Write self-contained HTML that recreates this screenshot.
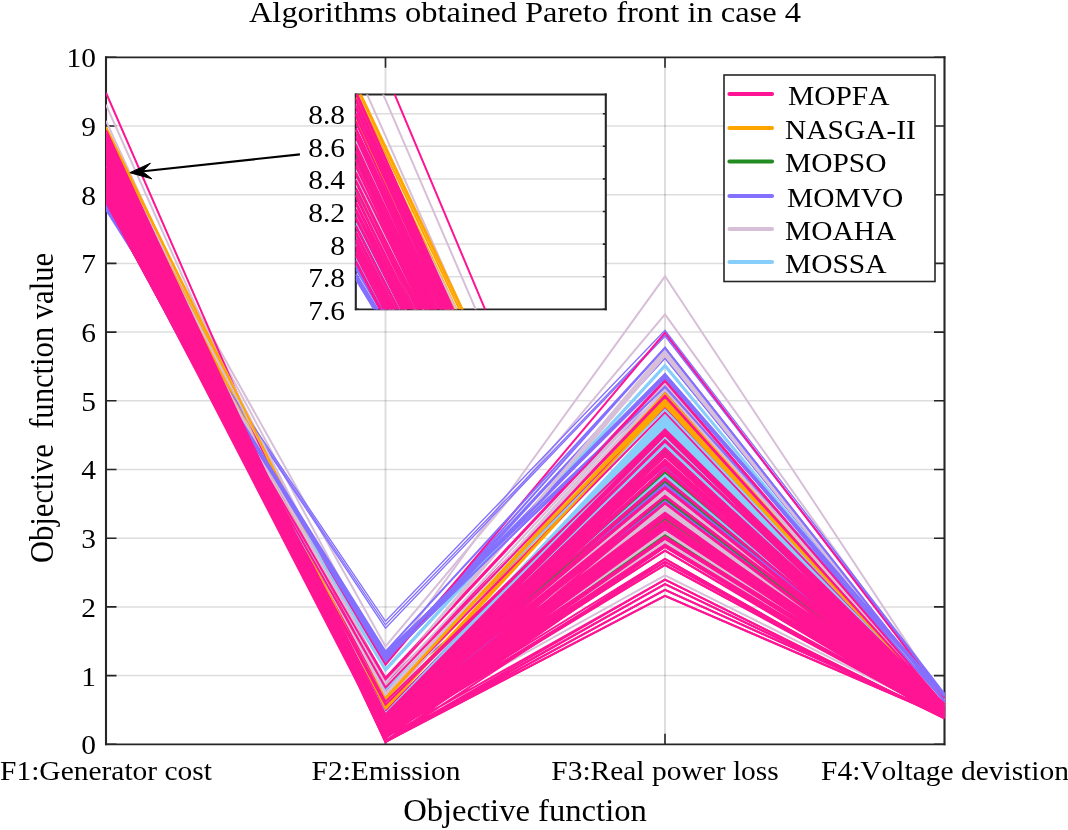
<!DOCTYPE html>
<html><head><meta charset="utf-8"><title>Pareto front</title>
<style>
html,body{margin:0;padding:0;background:#fff;}
body{width:1068px;height:830px;position:relative;overflow:hidden;font-family:"Liberation Serif",serif;color:#000;}
.t{position:absolute;white-space:pre;line-height:normal;margin:0;padding:0;filter:grayscale(1);font-kerning:none;font-variant-ligatures:none;}
</style></head><body>
<svg width="1068" height="830" viewBox="0 0 1068 830" style="position:absolute;left:0;top:0">
<defs><clipPath id="cm"><rect x="106.0" y="57.3" width="839.8" height="687.0"/></clipPath><clipPath id="ci"><rect x="355.8" y="94.5" width="250.0" height="214.8"/></clipPath></defs>
<path d="M106.0 675.6 H944.5 M106.0 606.9 H944.5 M106.0 538.2 H944.5 M106.0 469.5 H944.5 M106.0 400.8 H944.5 M106.0 332.1 H944.5 M106.0 263.4 H944.5 M106.0 194.7 H944.5 M106.0 126.0 H944.5" stroke="rgba(30,30,30,0.15)" stroke-width="1.5" fill="none"/>
<path d="M385.5 57.3 V744.3 M665.0 57.3 V744.3" stroke="rgba(30,30,30,0.15)" stroke-width="1.9" fill="none"/>
<path d="M106.0 744.3 h10.5 M944.5 744.3 h-10.5 M106.0 675.6 h10.5 M944.5 675.6 h-10.5 M106.0 606.9 h10.5 M944.5 606.9 h-10.5 M106.0 538.2 h10.5 M944.5 538.2 h-10.5 M106.0 469.5 h10.5 M944.5 469.5 h-10.5 M106.0 400.8 h10.5 M944.5 400.8 h-10.5 M106.0 332.1 h10.5 M944.5 332.1 h-10.5 M106.0 263.4 h10.5 M944.5 263.4 h-10.5 M106.0 194.7 h10.5 M944.5 194.7 h-10.5 M106.0 126.0 h10.5 M944.5 126.0 h-10.5 M106.0 57.3 h10.5 M944.5 57.3 h-10.5 M385.5 744.3 v-10.5 M385.5 57.3 v10.5 M665.0 744.3 v-10.5 M665.0 57.3 v10.5" stroke="#262626" stroke-width="1.6" fill="none"/>
<path d="M106.0 57.3 H944.5 M106.0 744.3 H944.5" stroke="#262626" stroke-width="1.8" stroke-linecap="square" fill="none"/>
<path d="M106.0 57.3 V744.3 M944.5 57.3 V744.3" stroke="#262626" stroke-width="2.1" stroke-linecap="square" fill="none"/>
<g fill="none" stroke-width="2.00" stroke-linejoin="miter" clip-path="url(#cm)"><path d="M106.0 195.1 L385.5 715.3 L665.0 444.3 L944.5 704.7" stroke="#87CEFA"/><path d="M106.0 207.5 L385.5 657.4 L665.0 376.1 L944.5 696.9" stroke="#8470FF"/><path d="M106.0 194.0 L385.5 713.6 L665.0 423.1 L944.5 704.7" stroke="#87CEFA"/><path d="M106.0 181.0 L385.5 709.9 L665.0 436.5 L944.5 709.9 M106.0 152.1 L385.5 681.7 L665.0 352.2 L944.5 703.8" stroke="#D8BFD8"/><path d="M106.0 186.7 L385.5 713.2 L665.0 418.9 L944.5 703.9 M106.0 194.2 L385.5 715.7 L665.0 443.2 L944.5 704.6" stroke="#87CEFA"/><path d="M106.0 146.6 L385.5 646.4 L665.0 314.4 L944.5 701.7" stroke="#D8BFD8"/><path d="M106.0 186.6 L385.5 721.4 L665.0 474.1 L944.5 707.8" stroke="#87CEFA"/><path d="M106.0 134.9 L385.5 700.3 L665.0 401.3 L944.5 706.9" stroke="#FFA500"/><path d="M106.0 181.0 L385.5 722.9 L665.0 475.3 L944.5 707.9 M106.0 183.8 L385.5 721.2 L665.0 476.5 L944.5 708.0" stroke="#87CEFA"/><path d="M106.0 159.2 L385.5 729.2 L665.0 519.0 L944.5 711.2" stroke="#228B22"/><path d="M106.0 205.2 L385.5 658.3 L665.0 357.9 L944.5 700.3" stroke="#8470FF"/><path d="M106.0 201.6 L385.5 670.8 L665.0 366.6 L944.5 703.1" stroke="#87CEFA"/><path d="M106.0 140.2 L385.5 721.5 L665.0 458.0 L944.5 707.4" stroke="#D8BFD8"/><path d="M106.0 157.5 L385.5 719.9 L665.0 452.0 L944.5 706.7" stroke="#228B22"/><path d="M106.0 130.1 L385.5 699.0 L665.0 399.1 L944.5 706.0" stroke="#FFA500"/><path d="M106.0 135.5 L385.5 730.5 L665.0 541.6 L944.5 713.1" stroke="#D8BFD8"/><path d="M106.0 201.6 L385.5 689.0 L665.0 466.8 L944.5 703.1" stroke="#8470FF"/><path d="M106.0 137.0 L385.5 706.2 L665.0 402.4 L944.5 705.9" stroke="#FFA500"/><path d="M106.0 143.2 L385.5 663.6 L665.0 276.3 L944.5 699.6 M106.0 141.6 L385.5 726.4 L665.0 506.8 L944.5 710.3" stroke="#D8BFD8"/><path d="M106.0 183.2 L385.5 713.0 L665.0 416.1 L944.5 703.9" stroke="#87CEFA"/><path d="M106.0 209.1 L385.5 624.8 L665.0 334.8 L944.5 694.5" stroke="#8470FF" stroke-width="1.35"/><path d="M106.0 185.7 L385.5 713.1 L665.0 417.5 L944.5 705.5" stroke="#87CEFA"/><path d="M106.0 180.0 L385.5 722.2 L665.0 472.2 L944.5 706.9" stroke="#228B22"/><path d="M106.0 139.7 L385.5 681.2 L665.0 354.6 L944.5 701.8 M106.0 104.7 L385.5 731.9 L665.0 514.2 L944.5 709.9" stroke="#D8BFD8"/><path d="M106.0 153.7 L385.5 732.8 L665.0 534.8 L944.5 712.8" stroke="#228B22"/><path d="M106.0 140.5 L385.5 725.9 L665.0 493.9 L944.5 710.3 M106.0 120.8 L385.5 730.6 L665.0 575.3 L944.5 714.8 M106.0 133.3 L385.5 729.4 L665.0 508.1 L944.5 710.6" stroke="#D8BFD8"/><path d="M106.0 171.8 L385.5 724.0 L665.0 499.9 L944.5 710.5" stroke="#228B22"/><path d="M106.0 207.8 L385.5 628.2 L665.0 336.2 L944.5 695.5" stroke="#8470FF" stroke-width="1.35"/><path d="M106.0 159.4 L385.5 731.1 L665.0 542.7 L944.5 714.0" stroke="#D8BFD8"/><path d="M106.0 203.4 L385.5 660.3 L665.0 347.7 L944.5 701.7" stroke="#8470FF"/><path d="M106.0 138.4 L385.5 723.9 L665.0 490.1 L944.5 710.3" stroke="#D8BFD8"/><path d="M106.0 203.5 L385.5 662.2 L665.0 357.5 L944.5 703.1 M106.0 204.1 L385.5 661.2 L665.0 374.4 L944.5 702.4" stroke="#8470FF"/><path d="M106.0 198.2 L385.5 714.9 L665.0 438.3 L944.5 704.2" stroke="#87CEFA"/><path d="M106.0 209.5 L385.5 653.5 L665.0 391.9 L944.5 694.1" stroke="#8470FF"/><path d="M106.0 139.7 L385.5 706.5 L665.0 403.5 L944.5 706.7" stroke="#FFA500"/><path d="M106.0 199.5 L385.5 719.8 L665.0 456.1 L944.5 707.0 M106.0 142.7 L385.5 740.9 L665.0 579.6 L944.5 718.5 M106.0 171.7 L385.5 714.4 L665.0 454.9 L944.5 709.9 M106.0 193.1 L385.5 717.5 L665.0 449.4 L944.5 704.1" stroke="#FF1493"/><path d="M106.0 193.1 L385.5 716.0 L665.0 446.5 L944.5 704.9" stroke="#87CEFA"/><path d="M106.0 174.4 L385.5 714.4 L665.0 433.5 L944.5 705.1" stroke="#FF1493"/><path d="M106.0 171.8 L385.5 730.8 L665.0 532.9 L944.5 712.3" stroke="#D8BFD8"/><path d="M106.0 155.9 L385.5 730.8 L665.0 538.6 L944.5 713.7 M106.0 180.3 L385.5 717.6 L665.0 479.4 L944.5 708.4 M106.0 149.3 L385.5 718.0 L665.0 470.1 L944.5 710.9 M106.0 158.7 L385.5 728.7 L665.0 496.7 L944.5 710.5 M106.0 146.3 L385.5 721.6 L665.0 495.9 L944.5 707.7 M106.0 164.6 L385.5 724.1 L665.0 453.7 L944.5 704.9 M106.0 199.8 L385.5 715.6 L665.0 448.5 L944.5 709.4 M106.0 152.5 L385.5 730.5 L665.0 512.7 L944.5 710.2 M106.0 133.7 L385.5 733.7 L665.0 545.8 L944.5 713.5 M106.0 146.8 L385.5 740.6 L665.0 584.2 L944.5 717.5" stroke="#FF1493"/><path d="M106.0 197.8 L385.5 727.3 L665.0 527.9 L944.5 708.6" stroke="#8470FF"/><path d="M106.0 169.1 L385.5 725.8 L665.0 491.4 L944.5 709.8" stroke="#D8BFD8"/><path d="M106.0 174.3 L385.5 720.7 L665.0 479.4 L944.5 709.8" stroke="#FF1493"/><path d="M106.0 180.8 L385.5 712.9 L665.0 414.7 L944.5 705.5" stroke="#87CEFA"/><path d="M106.0 132.9 L385.5 700.0 L665.0 400.2 L944.5 706.7" stroke="#FFA500"/><path d="M106.0 151.1 L385.5 731.6 L665.0 540.6 L944.5 713.6" stroke="#D8BFD8"/><path d="M106.0 174.5 L385.5 732.8 L665.0 503.5 L944.5 710.1 M106.0 137.2 L385.5 734.4 L665.0 526.2 L944.5 711.9 M106.0 92.7 L385.5 734.0 L665.0 524.5 L944.5 713.4" stroke="#FF1493"/><path d="M106.0 174.1 L385.5 703.1 L665.0 389.8 L944.5 706.5" stroke="#D8BFD8"/><path d="M106.0 162.4 L385.5 732.6 L665.0 526.2 L944.5 710.5" stroke="#FF1493"/><path d="M106.0 136.3 L385.5 683.3 L665.0 355.8 L944.5 701.8" stroke="#D8BFD8"/><path d="M106.0 190.1 L385.5 732.3 L665.0 550.7 L944.5 717.1 M106.0 140.4 L385.5 724.3 L665.0 503.1 L944.5 711.3 M106.0 140.2 L385.5 724.1 L665.0 470.1 L944.5 707.2" stroke="#FF1493"/><path d="M106.0 169.8 L385.5 727.8 L665.0 509.4 L944.5 710.9" stroke="#D8BFD8"/><path d="M106.0 153.0 L385.5 724.9 L665.0 516.3 L944.5 715.1 M106.0 194.7 L385.5 691.7 L665.0 407.3 L944.5 707.2" stroke="#FF1493"/><path d="M106.0 191.0 L385.5 713.5 L665.0 421.7 L944.5 705.2" stroke="#87CEFA"/><path d="M106.0 202.8 L385.5 710.6 L665.0 429.3 L944.5 707.6" stroke="#FF1493"/><path d="M106.0 171.2 L385.5 726.4 L665.0 482.4 L944.5 709.4" stroke="#228B22"/><path d="M106.0 152.3 L385.5 718.9 L665.0 478.5 L944.5 712.4" stroke="#FF1493"/><path d="M106.0 146.6 L385.5 709.3 L665.0 405.6 L944.5 707.1" stroke="#FFA500"/><path d="M106.0 192.8 L385.5 731.0 L665.0 513.9 L944.5 706.3" stroke="#FF1493"/><path d="M106.0 163.0 L385.5 723.3 L665.0 492.6 L944.5 710.0" stroke="#D8BFD8"/><path d="M106.0 201.3 L385.5 723.0 L665.0 501.1 L944.5 706.5" stroke="#8470FF"/><path d="M106.0 165.5 L385.5 725.4 L665.0 526.2 L944.5 714.3 M106.0 158.5 L385.5 714.4 L665.0 430.7 L944.5 705.3 M106.0 133.6 L385.5 735.6 L665.0 565.0 L944.5 714.9 M106.0 152.9 L385.5 723.7 L665.0 461.2 L944.5 706.7 M106.0 152.5 L385.5 741.9 L665.0 595.8 L944.5 716.8 M106.0 183.7 L385.5 712.0 L665.0 430.7 L944.5 705.4" stroke="#FF1493"/><path d="M106.0 172.0 L385.5 681.6 L665.0 349.8 L944.5 704.1" stroke="#D8BFD8"/><path d="M106.0 181.0 L385.5 714.5 L665.0 441.2 L944.5 704.1 M106.0 164.8 L385.5 732.4 L665.0 565.0 L944.5 716.3 M106.0 164.8 L385.5 732.3 L665.0 512.7 L944.5 710.3 M106.0 155.5 L385.5 734.6 L665.0 503.1 L944.5 712.1" stroke="#FF1493"/><path d="M106.0 151.1 L385.5 719.4 L665.0 458.2 L944.5 707.7" stroke="#D8BFD8"/><path d="M106.0 199.9 L385.5 720.2 L665.0 483.9 L944.5 705.1" stroke="#8470FF"/><path d="M106.0 195.9 L385.5 715.9 L665.0 434.9 L944.5 706.8 M106.0 181.0 L385.5 736.1 L665.0 523.5 L944.5 709.0 M106.0 190.3 L385.5 715.9 L665.0 460.1 L944.5 704.1 M106.0 187.2 L385.5 732.1 L665.0 544.7 L944.5 717.5 M106.0 187.4 L385.5 722.0 L665.0 487.2 L944.5 705.9 M106.0 167.7 L385.5 720.0 L665.0 432.1 L944.5 704.1 M106.0 171.2 L385.5 715.3 L665.0 440.3 L944.5 706.4 M106.0 155.7 L385.5 722.0 L665.0 468.7 L944.5 707.9 M106.0 195.7 L385.5 714.4 L665.0 440.3 L944.5 704.1 M106.0 202.9 L385.5 664.9 L665.0 332.6 L944.5 698.5" stroke="#FF1493"/><path d="M106.0 195.2 L385.5 714.2 L665.0 445.4 L944.5 704.8" stroke="#87CEFA"/><path d="M106.0 199.5 L385.5 723.7 L665.0 488.1 L944.5 710.5" stroke="#FF1493"/><path d="M106.0 136.2 L385.5 731.6 L665.0 531.6 L944.5 714.0" stroke="#D8BFD8"/><path d="M106.0 199.5 L385.5 677.7 L665.0 379.8 L944.5 704.5 M106.0 193.3 L385.5 696.2 L665.0 412.3 L944.5 707.9" stroke="#FF1493"/><path d="M106.0 193.3 L385.5 690.0 L665.0 409.7 L944.5 704.5" stroke="#87CEFA"/><path d="M106.0 208.4 L385.5 621.3 L665.0 330.4 L944.5 693.5" stroke="#8470FF" stroke-width="1.35"/><path d="M106.0 165.1 L385.5 738.1 L665.0 522.2 L944.5 710.5 M106.0 164.6 L385.5 714.7 L665.0 450.3 L944.5 705.9" stroke="#FF1493"/><path d="M106.0 197.8 L385.5 713.8 L665.0 425.9 L944.5 703.8" stroke="#87CEFA"/><path d="M106.0 163.2 L385.5 722.6 L665.0 498.5 L944.5 710.5" stroke="#228B22"/><path d="M106.0 128.1 L385.5 697.6 L665.0 398.0 L944.5 707.2" stroke="#FFA500"/><path d="M106.0 173.5 L385.5 722.0 L665.0 481.2 L944.5 709.1" stroke="#228B22"/><path d="M106.0 146.6 L385.5 683.3 L665.0 353.4 L944.5 705.5" stroke="#D8BFD8"/><path d="M106.0 198.9 L385.5 714.4 L665.0 440.3 L944.5 705.8" stroke="#FF1493"/><path d="M106.0 194.7 L385.5 668.7 L665.0 364.7 L944.5 702.4" stroke="#87CEFA"/><path d="M106.0 187.0 L385.5 717.6 L665.0 434.9 L944.5 706.5 M106.0 136.5 L385.5 741.6 L665.0 589.9 L944.5 716.1" stroke="#FF1493"/><path d="M106.0 195.2 L385.5 713.7 L665.0 424.5 L944.5 705.1" stroke="#87CEFA"/><path d="M106.0 180.2 L385.5 714.4 L665.0 433.5 L944.5 704.1 M106.0 202.4 L385.5 714.4 L665.0 464.7 L944.5 705.6 M106.0 159.0 L385.5 724.6 L665.0 523.5 L944.5 716.6" stroke="#FF1493"/><path d="M106.0 201.1 L385.5 720.4 L665.0 485.3 L944.5 705.2" stroke="#8470FF"/><path d="M106.0 127.0 L385.5 697.2 L665.0 393.2 L944.5 706.6" stroke="#FFA500"/><path d="M106.0 130.9 L385.5 733.5 L665.0 536.8 L944.5 709.0 M106.0 176.9 L385.5 720.6 L665.0 478.5 L944.5 708.8 M106.0 145.8 L385.5 720.8 L665.0 503.1 L944.5 713.9" stroke="#FF1493"/><path d="M106.0 179.0 L385.5 729.7 L665.0 505.5 L944.5 711.1" stroke="#D8BFD8"/><path d="M106.0 189.5 L385.5 713.4 L665.0 420.3 L944.5 705.1" stroke="#87CEFA"/><path d="M106.0 189.5 L385.5 719.8 L665.0 456.1 L944.5 706.6" stroke="#FF1493"/><path d="M106.0 207.2 L385.5 655.4 L665.0 374.0 L944.5 695.5" stroke="#8470FF"/><path d="M106.0 184.1 L385.5 715.7 L665.0 461.2 L944.5 706.7" stroke="#FF1493"/><path d="M106.0 142.5 L385.5 707.9 L665.0 404.6 L944.5 706.6" stroke="#FFA500"/><path d="M106.0 187.4 L385.5 704.7 L665.0 429.3 L944.5 704.1 M106.0 159.1 L385.5 729.2 L665.0 524.9 L944.5 712.5 M106.0 196.8 L385.5 684.5 L665.0 395.6 L944.5 705.8 M106.0 167.9 L385.5 728.3 L665.0 529.1 L944.5 712.5" stroke="#FF1493"/><path d="M106.0 167.2 L385.5 693.3 L665.0 384.4 L944.5 706.5 M106.0 174.1 L385.5 694.8 L665.0 388.4 L944.5 706.5 M106.0 163.8 L385.5 683.0 L665.0 351.0 L944.5 704.0" stroke="#D8BFD8"/><path d="M106.0 201.9 L385.5 716.8 L665.0 441.2 L944.5 706.7 M106.0 159.2 L385.5 718.3 L665.0 464.7 L944.5 708.4 M106.0 202.6 L385.5 715.7 L665.0 450.3 L944.5 704.1 M106.0 152.7 L385.5 735.4 L665.0 561.9 L944.5 713.6" stroke="#FF1493"/><path d="M106.0 203.8 L385.5 659.3 L665.0 386.4 L944.5 701.0" stroke="#8470FF"/><path d="M106.0 200.0 L385.5 713.9 L665.0 427.3 L944.5 705.1" stroke="#87CEFA"/><path d="M106.0 171.5 L385.5 725.3 L665.0 538.6 L944.5 714.9" stroke="#FF1493"/><path d="M106.0 167.2 L385.5 685.9 L665.0 383.1 L944.5 706.5" stroke="#D8BFD8"/><path d="M106.0 139.9 L385.5 732.1 L665.0 558.8 L944.5 717.4" stroke="#FF1493"/><path d="M106.0 204.0 L385.5 651.6 L665.0 347.9 L944.5 702.0" stroke="#8470FF"/><path d="M106.0 161.9 L385.5 728.5 L665.0 510.7 L944.5 710.6" stroke="#D8BFD8"/><path d="M106.0 207.5 L385.5 656.4 L665.0 377.4 L944.5 696.2 M106.0 208.5 L385.5 652.5 L665.0 387.1 L944.5 696.6" stroke="#8470FF"/><path d="M106.0 161.5 L385.5 717.6 L665.0 487.2 L944.5 709.3 M106.0 140.1 L385.5 721.9 L665.0 462.4 L944.5 707.9 M106.0 192.6 L385.5 729.8 L665.0 523.5 L944.5 710.3 M106.0 196.6 L385.5 721.2 L665.0 464.7 L944.5 709.2 M106.0 183.6 L385.5 721.7 L665.0 460.1 L944.5 704.1 M106.0 139.5 L385.5 737.4 L665.0 546.8 L944.5 715.8" stroke="#FF1493"/><path d="M106.0 203.7 L385.5 654.5 L665.0 377.8 L944.5 694.8" stroke="#8470FF"/><path d="M106.0 130.2 L385.5 741.6 L665.0 595.8 L944.5 716.5 M106.0 146.0 L385.5 724.9 L665.0 456.1 L944.5 708.6 M106.0 177.5 L385.5 719.9 L665.0 463.6 L944.5 709.2 M106.0 136.4 L385.5 734.0 L665.0 515.1 L944.5 710.7 M106.0 174.3 L385.5 714.4 L665.0 432.1 L944.5 705.5 M106.0 156.1 L385.5 733.7 L665.0 513.9 L944.5 713.3 M106.0 155.1 L385.5 720.3 L665.0 454.9 L944.5 704.5 M106.0 190.2 L385.5 730.2 L665.0 522.2 L944.5 711.2 M106.0 177.7 L385.5 731.1 L665.0 522.2 L944.5 712.6 M106.0 139.6 L385.5 736.0 L665.0 544.7 L944.5 714.4 M106.0 180.7 L385.5 714.4 L665.0 441.2 L944.5 704.1 M106.0 201.9 L385.5 717.4 L665.0 434.9 L944.5 707.3 M106.0 183.7 L385.5 717.7 L665.0 463.6 L944.5 711.4 M106.0 143.3 L385.5 729.4 L665.0 479.4 L944.5 709.1 M106.0 149.7 L385.5 741.9 L665.0 589.9 L944.5 716.0 M106.0 140.5 L385.5 730.9 L665.0 478.5 L944.5 710.4 M106.0 159.0 L385.5 730.2 L665.0 495.9 L944.5 711.1 M106.0 174.6 L385.5 723.3 L665.0 454.9 L944.5 712.0 M106.0 192.6 L385.5 715.5 L665.0 462.4 L944.5 707.6 M106.0 142.9 L385.5 742.2 L665.0 584.2 L944.5 717.9 M106.0 148.9 L385.5 728.5 L665.0 524.9 L944.5 716.8 M106.0 193.6 L385.5 722.1 L665.0 453.7 L944.5 705.3 M106.0 167.9 L385.5 714.4 L665.0 453.7 L944.5 705.4 M106.0 146.7 L385.5 740.7 L665.0 546.8 L944.5 716.8 M106.0 133.5 L385.5 732.3 L665.0 550.7 L944.5 714.6 M106.0 177.3 L385.5 719.1 L665.0 463.6 L944.5 706.5 M106.0 190.4 L385.5 726.3 L665.0 517.5 L944.5 714.4 M106.0 198.7 L385.5 732.3 L665.0 545.8 L944.5 712.4 M106.0 180.0 L385.5 718.7 L665.0 448.5 L944.5 707.3 M106.0 193.3 L385.5 714.4 L665.0 450.3 L944.5 706.1 M106.0 149.6 L385.5 727.5 L665.0 520.9 L944.5 715.8 M106.0 183.8 L385.5 701.7 L665.0 429.3 L944.5 704.1 M106.0 192.7 L385.5 716.7 L665.0 449.4 L944.5 704.3 M106.0 168.3 L385.5 726.1 L665.0 515.1 L944.5 711.2 M106.0 148.9 L385.5 734.8 L665.0 537.7 L944.5 715.7 M106.0 180.4 L385.5 721.0 L665.0 495.9 L944.5 706.9 M106.0 155.4 L385.5 730.0 L665.0 537.7 L944.5 713.8 M106.0 164.5 L385.5 719.9 L665.0 461.2 L944.5 709.0 M106.0 155.8 L385.5 725.9 L665.0 432.1 L944.5 704.1 M106.0 195.7 L385.5 717.6 L665.0 449.4 L944.5 705.6 M106.0 131.1 L385.5 735.5 L665.0 545.8 L944.5 712.7 M106.0 187.0 L385.5 731.2 L665.0 544.7 L944.5 712.9 M106.0 161.7 L385.5 736.1 L665.0 496.7 L944.5 709.2 M106.0 192.7 L385.5 717.0 L665.0 433.5 L944.5 705.1 M106.0 143.4 L385.5 725.8 L665.0 503.5 L944.5 710.2 M106.0 137.2 L385.5 732.6 L665.0 536.8 L944.5 714.8 M106.0 174.3 L385.5 714.4 L665.0 430.7 L944.5 704.1 M106.0 134.3 L385.5 730.3 L665.0 513.9 L944.5 712.9 M106.0 198.1 L385.5 679.4 L665.0 381.0 L944.5 705.1 M106.0 130.8 L385.5 742.2 L665.0 558.8 L944.5 718.2 M106.0 196.4 L385.5 737.2 L665.0 579.6 L944.5 718.2 M106.0 161.6 L385.5 723.0 L665.0 512.7 L944.5 714.0 M106.0 195.4 L385.5 687.6 L665.0 396.7 L944.5 706.5 M106.0 168.5 L385.5 735.1 L665.0 517.5 L944.5 708.3 M106.0 139.8 L385.5 722.9 L665.0 516.3 L944.5 714.8 M106.0 133.9 L385.5 735.1 L665.0 538.6 L944.5 712.5 M106.0 174.5 L385.5 728.9 L665.0 470.1 L944.5 712.9 M106.0 146.2 L385.5 740.9 L665.0 546.8 L944.5 712.8 M106.0 148.8 L385.5 724.2 L665.0 496.7 L944.5 710.6 M106.0 149.3 L385.5 727.3 L665.0 537.7 L944.5 711.7 M106.0 177.5 L385.5 732.7 L665.0 529.1 L944.5 709.2 M106.0 180.2 L385.5 723.3 L665.0 488.1 L944.5 707.5 M106.0 190.3 L385.5 726.6 L665.0 468.7 L944.5 709.4 M106.0 134.3 L385.5 732.9 L665.0 520.9 L944.5 711.3 M106.0 136.4 L385.5 728.2 L665.0 515.1 L944.5 707.7 M106.0 155.9 L385.5 735.2 L665.0 536.8 L944.5 711.9 M106.0 133.8 L385.5 729.8 L665.0 520.9 L944.5 712.7 M106.0 131.0 L385.5 729.9 L665.0 529.1 L944.5 713.2 M106.0 164.6 L385.5 722.9 L665.0 462.4 L944.5 705.5 M106.0 202.5 L385.5 717.0 L665.0 468.7 L944.5 707.4 M106.0 195.6 L385.5 716.9 L665.0 448.5 L944.5 714.7 M106.0 183.3 L385.5 727.3 L665.0 516.3 L944.5 711.0 M106.0 140.1 L385.5 733.5 L665.0 524.9 L944.5 712.6 M106.0 199.4 L385.5 714.4 L665.0 460.1 L944.5 709.0 M106.0 199.3 L385.5 722.5 L665.0 488.1 L944.5 711.4 M106.0 130.9 L385.5 735.2 L665.0 503.5 L944.5 713.6 M106.0 168.1 L385.5 725.6 L665.0 517.5 L944.5 713.3 M106.0 173.8 L385.5 734.5 L665.0 561.9 L944.5 715.4 M106.0 167.7 L385.5 721.6 L665.0 487.2 L944.5 707.7" stroke="#FF1493"/></g>
<rect x="355.8" y="94.5" width="250.0" height="214.8" fill="#fff"/>
<path d="M355.8 276.7 H605.8 M355.8 244.1 H605.8 M355.8 211.5 H605.8 M355.8 178.9 H605.8 M355.8 146.3 H605.8 M355.8 113.7 H605.8" stroke="rgba(30,30,30,0.15)" stroke-width="1.5" fill="none"/>
<path d="M355.8 309.3 h3 M605.8 309.3 h-3 M355.8 276.7 h3 M605.8 276.7 h-3 M355.8 244.1 h3 M605.8 244.1 h-3 M355.8 211.5 h3 M605.8 211.5 h-3 M355.8 178.9 h3 M605.8 178.9 h-3 M355.8 146.3 h3 M605.8 146.3 h-3 M355.8 113.7 h3 M605.8 113.7 h-3" stroke="#262626" stroke-width="1.6" fill="none"/>
<path d="M355.8 94.5 H605.8 M355.8 309.3 H605.8" stroke="#262626" stroke-width="1.8" stroke-linecap="square" fill="none"/>
<path d="M355.8 94.5 V309.3 M605.8 94.5 V309.3" stroke="#262626" stroke-width="2.1" stroke-linecap="square" fill="none"/>
<g fill="none" stroke-width="2.00" clip-path="url(#ci)"><path d="M355.8 245.1 L643.8 800.5" stroke="#87CEFA"/><path d="M355.8 274.4 L643.8 754.7" stroke="#8470FF"/><path d="M355.8 242.4 L643.8 797.2" stroke="#87CEFA"/><path d="M355.8 211.5 L643.8 776.3 M355.8 143.0 L643.8 708.4" stroke="#D8BFD8"/><path d="M355.8 225.2 L643.8 787.4 M355.8 242.9 L643.8 799.7" stroke="#87CEFA"/><path d="M355.8 130.0 L643.8 663.6" stroke="#D8BFD8"/><path d="M355.8 224.8 L643.8 795.8" stroke="#87CEFA"/><path d="M355.8 102.3 L643.8 706.0" stroke="#FFA500"/><path d="M355.8 211.7 L643.8 790.2 M355.8 218.1 L643.8 791.9" stroke="#87CEFA"/><path d="M355.8 159.8 L643.8 768.3" stroke="#228B22"/><path d="M355.8 268.9 L643.8 752.8" stroke="#8470FF"/><path d="M355.8 260.4 L643.8 761.4" stroke="#87CEFA"/><path d="M355.8 114.9 L643.8 735.5" stroke="#D8BFD8"/><path d="M355.8 155.9 L643.8 756.3" stroke="#228B22"/><path d="M355.8 90.9 L643.8 698.2" stroke="#FFA500"/><path d="M355.8 103.6 L643.8 738.9" stroke="#D8BFD8"/><path d="M355.8 260.4 L643.8 780.8" stroke="#8470FF"/><path d="M355.8 107.2 L643.8 714.9" stroke="#FFA500"/><path d="M355.8 121.8 L643.8 677.5 M355.8 118.0 L643.8 742.4" stroke="#D8BFD8"/><path d="M355.8 216.7 L643.8 782.5" stroke="#87CEFA"/><path d="M355.8 278.3 L643.8 722.1" stroke="#8470FF" stroke-width="1.35"/><path d="M355.8 222.7 L643.8 785.9" stroke="#87CEFA"/><path d="M355.8 209.1 L643.8 788.0" stroke="#228B22"/><path d="M355.8 113.7 L643.8 691.8 M355.8 30.6 L643.8 700.3" stroke="#D8BFD8"/><path d="M355.8 146.9 L643.8 765.1" stroke="#228B22"/><path d="M355.8 115.6 L643.8 740.5 M355.8 68.9 L643.8 719.9 M355.8 98.4 L643.8 734.9" stroke="#D8BFD8"/><path d="M355.8 189.8 L643.8 779.4" stroke="#228B22"/><path d="M355.8 275.1 L643.8 724.0" stroke="#8470FF" stroke-width="1.35"/><path d="M355.8 160.3 L643.8 770.7" stroke="#D8BFD8"/><path d="M355.8 264.7 L643.8 752.5" stroke="#8470FF"/><path d="M355.8 110.6 L643.8 735.7" stroke="#D8BFD8"/><path d="M355.8 265.1 L643.8 754.8 M355.8 266.3 L643.8 754.4" stroke="#8470FF"/><path d="M355.8 252.4 L643.8 804.1" stroke="#87CEFA"/><path d="M355.8 279.2 L643.8 753.3" stroke="#8470FF"/><path d="M355.8 113.7 L643.8 718.8" stroke="#FFA500"/><path d="M355.8 255.4 L643.8 811.0 M355.8 120.8 L643.8 759.4 M355.8 189.6 L643.8 769.0 M355.8 240.4 L643.8 800.3" stroke="#FF1493"/><path d="M355.8 240.4 L643.8 798.7" stroke="#87CEFA"/><path d="M355.8 196.0 L643.8 772.6" stroke="#FF1493"/><path d="M355.8 189.9 L643.8 786.7" stroke="#D8BFD8"/><path d="M355.8 152.0 L643.8 765.8 M355.8 209.9 L643.8 783.7 M355.8 136.5 L643.8 743.6 M355.8 158.7 L643.8 767.3 M355.8 129.2 L643.8 743.4 M355.8 172.7 L643.8 770.0 M355.8 256.3 L643.8 807.0 M355.8 144.1 L643.8 761.1 M355.8 99.4 L643.8 740.0 M355.8 130.4 L643.8 764.4" stroke="#FF1493"/><path d="M355.8 251.4 L643.8 816.7" stroke="#8470FF"/><path d="M355.8 183.3 L643.8 777.7" stroke="#D8BFD8"/><path d="M355.8 195.7 L643.8 779.0" stroke="#FF1493"/><path d="M355.8 211.0 L643.8 779.2" stroke="#87CEFA"/><path d="M355.8 97.4 L643.8 702.9" stroke="#FFA500"/><path d="M355.8 140.8 L643.8 760.5" stroke="#D8BFD8"/><path d="M355.8 196.2 L643.8 792.3 M355.8 107.8 L643.8 745.3 M355.8 2.0 L643.8 686.8" stroke="#FF1493"/><path d="M355.8 195.2 L643.8 760.0" stroke="#D8BFD8"/><path d="M355.8 167.5 L643.8 776.2" stroke="#FF1493"/><path d="M355.8 105.6 L643.8 689.5" stroke="#D8BFD8"/><path d="M355.8 233.2 L643.8 812.1 M355.8 115.4 L643.8 738.8 M355.8 114.9 L643.8 738.2" stroke="#FF1493"/><path d="M355.8 185.1 L643.8 780.8" stroke="#D8BFD8"/><path d="M355.8 145.3 L643.8 755.9 M355.8 244.1 L643.8 774.7" stroke="#FF1493"/><path d="M355.8 235.4 L643.8 793.2" stroke="#87CEFA"/><path d="M355.8 263.4 L643.8 805.5" stroke="#FF1493"/><path d="M355.8 188.3 L643.8 781.0" stroke="#228B22"/><path d="M355.8 143.4 L643.8 748.4" stroke="#FF1493"/><path d="M355.8 130.0 L643.8 730.7" stroke="#FFA500"/><path d="M355.8 239.7 L643.8 814.2" stroke="#FF1493"/><path d="M355.8 168.9 L643.8 767.2" stroke="#D8BFD8"/><path d="M355.8 259.8 L643.8 816.8" stroke="#8470FF"/><path d="M355.8 174.8 L643.8 772.6 M355.8 158.1 L643.8 751.7 M355.8 99.2 L643.8 741.9 M355.8 145.0 L643.8 754.3 M355.8 144.1 L643.8 773.3 M355.8 218.0 L643.8 782.1" stroke="#FF1493"/><path d="M355.8 190.3 L643.8 734.4" stroke="#D8BFD8"/><path d="M355.8 211.5 L643.8 781.1 M355.8 173.1 L643.8 779.1 M355.8 173.2 L643.8 779.1 M355.8 151.0 L643.8 769.3" stroke="#FF1493"/><path d="M355.8 140.7 L643.8 747.4" stroke="#D8BFD8"/><path d="M355.8 256.4 L643.8 811.9" stroke="#8470FF"/><path d="M355.8 246.9 L643.8 802.1 M355.8 211.6 L643.8 804.3 M355.8 233.7 L643.8 794.9 M355.8 226.2 L643.8 808.1 M355.8 226.7 L643.8 797.6 M355.8 180.0 L643.8 769.7 M355.8 188.3 L643.8 769.3 M355.8 151.7 L643.8 756.2 M355.8 246.5 L643.8 800.3 M355.8 263.7 L643.8 756.9" stroke="#FF1493"/><path d="M355.8 245.4 L643.8 799.5" stroke="#87CEFA"/><path d="M355.8 255.4 L643.8 815.1" stroke="#FF1493"/><path d="M355.8 105.4 L643.8 741.0" stroke="#D8BFD8"/><path d="M355.8 255.5 L643.8 766.0 M355.8 240.8 L643.8 777.8" stroke="#FF1493"/><path d="M355.8 240.8 L643.8 771.2" stroke="#87CEFA"/><path d="M355.8 276.7 L643.8 717.5" stroke="#8470FF" stroke-width="1.35"/><path d="M355.8 173.9 L643.8 785.7 M355.8 172.7 L643.8 760.1" stroke="#FF1493"/><path d="M355.8 251.4 L643.8 802.3" stroke="#87CEFA"/><path d="M355.8 169.3 L643.8 766.5" stroke="#228B22"/><path d="M355.8 86.0 L643.8 694.1" stroke="#FFA500"/><path d="M355.8 193.9 L643.8 779.5" stroke="#228B22"/><path d="M355.8 130.0 L643.8 703.0" stroke="#D8BFD8"/><path d="M355.8 254.1 L643.8 804.5" stroke="#FF1493"/><path d="M355.8 244.1 L643.8 750.2" stroke="#87CEFA"/><path d="M355.8 225.9 L643.8 792.4 M355.8 106.1 L643.8 752.1" stroke="#FF1493"/><path d="M355.8 245.2 L643.8 798.8" stroke="#87CEFA"/><path d="M355.8 209.7 L643.8 780.1 M355.8 262.4 L643.8 809.1 M355.8 159.4 L643.8 763.3" stroke="#FF1493"/><path d="M355.8 259.3 L643.8 813.8" stroke="#8470FF"/><path d="M355.8 83.5 L643.8 692.3" stroke="#FFA500"/><path d="M355.8 92.8 L643.8 736.2 M355.8 201.9 L643.8 782.4 M355.8 128.1 L643.8 742.0" stroke="#FF1493"/><path d="M355.8 206.9 L643.8 794.8" stroke="#D8BFD8"/><path d="M355.8 231.7 L643.8 791.0" stroke="#87CEFA"/><path d="M355.8 231.7 L643.8 797.9" stroke="#FF1493"/><path d="M355.8 273.7 L643.8 752.3" stroke="#8470FF"/><path d="M355.8 219.0 L643.8 786.6" stroke="#FF1493"/><path d="M355.8 120.2 L643.8 723.9" stroke="#FFA500"/><path d="M355.8 226.7 L643.8 779.1 M355.8 159.5 L643.8 768.3 M355.8 249.0 L643.8 769.8 M355.8 180.6 L643.8 778.9" stroke="#FF1493"/><path d="M355.8 178.9 L643.8 740.6 M355.8 195.2 L643.8 751.2 M355.8 170.8 L643.8 725.2" stroke="#D8BFD8"/><path d="M355.8 261.2 L643.8 810.9 M355.8 159.9 L643.8 756.9 M355.8 262.9 L643.8 810.7 M355.8 144.5 L643.8 766.6" stroke="#FF1493"/><path d="M355.8 265.7 L643.8 752.0" stroke="#8470FF"/><path d="M355.8 256.7 L643.8 805.3" stroke="#87CEFA"/><path d="M355.8 189.1 L643.8 780.4" stroke="#FF1493"/><path d="M355.8 178.9 L643.8 732.7" stroke="#D8BFD8"/><path d="M355.8 114.1 L643.8 746.4" stroke="#FF1493"/><path d="M355.8 266.0 L643.8 743.9" stroke="#8470FF"/><path d="M355.8 166.3 L643.8 771.3" stroke="#D8BFD8"/><path d="M355.8 274.5 L643.8 753.8 M355.8 276.9 L643.8 751.0" stroke="#8470FF"/><path d="M355.8 165.3 L643.8 759.1 M355.8 114.5 L643.8 735.8 M355.8 239.2 L643.8 812.7 M355.8 248.6 L643.8 808.7 M355.8 217.8 L643.8 792.3 M355.8 113.2 L643.8 751.5" stroke="#FF1493"/><path d="M355.8 265.5 L643.8 746.7" stroke="#8470FF"/><path d="M355.8 91.1 L643.8 743.8 M355.8 128.6 L643.8 746.7 M355.8 203.3 L643.8 782.4 M355.8 105.7 L643.8 743.8 M355.8 195.8 L643.8 772.4 M355.8 152.5 L643.8 769.2 M355.8 150.1 L643.8 753.5 M355.8 233.5 L643.8 810.0 M355.8 203.9 L643.8 794.7 M355.8 113.5 L643.8 750.2 M355.8 211.0 L643.8 780.8 M355.8 261.2 L643.8 811.5 M355.8 218.1 L643.8 788.2 M355.8 122.2 L643.8 747.9 M355.8 137.4 L643.8 769.7 M355.8 115.5 L643.8 745.9 M355.8 159.4 L643.8 769.3 M355.8 196.4 L643.8 782.2 M355.8 239.0 L643.8 797.4 M355.8 121.1 L643.8 761.0 M355.8 135.4 L643.8 754.2 M355.8 241.4 L643.8 805.7 M355.8 180.6 L643.8 764.0 M355.8 130.1 L643.8 764.4 M355.8 98.9 L643.8 738.2 M355.8 202.7 L643.8 781.2 M355.8 233.8 L643.8 806.0 M355.8 253.7 L643.8 823.4 M355.8 209.3 L643.8 784.5 M355.8 240.8 L643.8 797.2 M355.8 137.2 L643.8 754.2 M355.8 218.2 L643.8 771.2 M355.8 239.4 L643.8 798.9 M355.8 181.4 L643.8 777.0 M355.8 135.4 L643.8 761.0 M355.8 210.2 L643.8 787.4 M355.8 150.9 L643.8 764.3 M355.8 172.5 L643.8 765.5 M355.8 151.9 L643.8 760.6 M355.8 246.5 L643.8 803.7 M355.8 93.1 L643.8 738.5 M355.8 225.9 L643.8 807.0 M355.8 165.8 L643.8 779.1 M355.8 239.2 L643.8 799.1 M355.8 122.3 L643.8 744.2 M355.8 107.6 L643.8 743.3 M355.8 195.8 L643.8 772.4 M355.8 100.7 L643.8 737.1 M355.8 252.2 L643.8 766.1 M355.8 92.4 L643.8 745.3 M355.8 248.2 L643.8 825.6 M355.8 165.7 L643.8 765.0 M355.8 245.7 L643.8 771.3 M355.8 181.9 L643.8 786.8 M355.8 113.8 L643.8 736.4 M355.8 100.0 L643.8 741.8 M355.8 196.1 L643.8 788.1 M355.8 129.1 L643.8 764.0 M355.8 135.3 L643.8 749.6 M355.8 136.3 L643.8 753.5 M355.8 203.3 L643.8 796.1 M355.8 209.7 L643.8 789.6 M355.8 233.6 L643.8 806.3 M355.8 100.7 L643.8 739.9 M355.8 105.8 L643.8 737.6 M355.8 152.0 L643.8 770.5 M355.8 99.7 L643.8 736.0 M355.8 93.0 L643.8 732.4 M355.8 172.7 L643.8 768.8 M355.8 262.6 L643.8 811.9 M355.8 246.3 L643.8 802.8 M355.8 217.1 L643.8 797.9 M355.8 114.6 L643.8 748.2 M355.8 255.2 L643.8 805.1 M355.8 255.0 L643.8 813.6 M355.8 92.7 L643.8 737.9 M355.8 180.9 L643.8 776.2 M355.8 194.5 L643.8 793.2 M355.8 180.1 L643.8 771.5" stroke="#FF1493"/></g>
<path d="M299.9 154.3 L141 171.5" stroke="#000" stroke-width="2.2" fill="none"/>
<path d="M129.8 172.7 L150.4 163.2 L142.5 171.4 L151.8 178.8 Z" fill="#000" stroke="#000" stroke-width="1" stroke-linejoin="round"/>
<rect x="724.0" y="75.0" width="211.0" height="206.5" fill="#fff" stroke="#262626" stroke-width="1.6"/>
<path d="M729.5 94.0 H772" stroke="#FF1493" stroke-width="4.2" stroke-linecap="round"/>
<path d="M729.5 128.0 H772" stroke="#FFA500" stroke-width="4.2" stroke-linecap="round"/>
<path d="M729.5 161.5 H772" stroke="#228B22" stroke-width="4.2" stroke-linecap="round"/>
<path d="M729.5 196.0 H772" stroke="#8470FF" stroke-width="4.2" stroke-linecap="round"/>
<path d="M729.5 229.0 H772" stroke="#D8BFD8" stroke-width="4.2" stroke-linecap="round"/>
<path d="M729.5 262.0 H772" stroke="#87CEFA" stroke-width="4.2" stroke-linecap="round"/>
</svg>
<div class="t" style="left:524.9px;top:-4.7px;font-size:30.43px;transform:translateX(-50%) scaleX(1.068);transform-origin:center;">Algorithms obtained Pareto front in case 4</div>
<div class="t" style="left:525.3px;top:794.1px;font-size:30.55px;transform:translateX(-50%) scaleX(1.068);transform-origin:center;">Objective function</div>
<div class="t" style="left:106.0px;top:754.7px;font-size:28.20px;transform:translateX(-50%) scaleX(1.045);transform-origin:center;">F1:Generator cost</div>
<div class="t" style="left:385.5px;top:754.7px;font-size:28.20px;transform:translateX(-50%) scaleX(1.045);transform-origin:center;">F2:Emission</div>
<div class="t" style="left:665.0px;top:754.7px;font-size:28.20px;transform:translateX(-50%) scaleX(1.045);transform-origin:center;">F3:Real power loss</div>
<div class="t" style="left:944.5px;top:754.7px;font-size:28.20px;transform:translateX(-50%) scaleX(1.045);transform-origin:center;">F4:Voltage devistion</div>
<div class="t" style="left:96.0px;top:729.2px;font-size:28.20px;transform:translateX(-100%) scaleX(1.045);transform-origin:right;">0</div>
<div class="t" style="left:96.0px;top:660.5px;font-size:28.20px;transform:translateX(-100%) scaleX(1.045);transform-origin:right;">1</div>
<div class="t" style="left:96.0px;top:591.8px;font-size:28.20px;transform:translateX(-100%) scaleX(1.045);transform-origin:right;">2</div>
<div class="t" style="left:96.0px;top:523.1px;font-size:28.20px;transform:translateX(-100%) scaleX(1.045);transform-origin:right;">3</div>
<div class="t" style="left:96.0px;top:454.4px;font-size:28.20px;transform:translateX(-100%) scaleX(1.045);transform-origin:right;">4</div>
<div class="t" style="left:96.0px;top:385.7px;font-size:28.20px;transform:translateX(-100%) scaleX(1.045);transform-origin:right;">5</div>
<div class="t" style="left:96.0px;top:317.0px;font-size:28.20px;transform:translateX(-100%) scaleX(1.045);transform-origin:right;">6</div>
<div class="t" style="left:96.0px;top:248.3px;font-size:28.20px;transform:translateX(-100%) scaleX(1.045);transform-origin:right;">7</div>
<div class="t" style="left:96.0px;top:179.6px;font-size:28.20px;transform:translateX(-100%) scaleX(1.045);transform-origin:right;">8</div>
<div class="t" style="left:96.0px;top:110.9px;font-size:28.20px;transform:translateX(-100%) scaleX(1.045);transform-origin:right;">9</div>
<div class="t" style="left:96.0px;top:42.2px;font-size:28.20px;transform:translateX(-100%) scaleX(1.045);transform-origin:right;">10</div>
<div class="t" style="left:344.6px;top:294.8px;font-size:28.20px;transform:translateX(-100%) scaleX(1.045);transform-origin:right;">7.6</div>
<div class="t" style="left:344.6px;top:262.2px;font-size:28.20px;transform:translateX(-100%) scaleX(1.045);transform-origin:right;">7.8</div>
<div class="t" style="left:344.6px;top:229.6px;font-size:28.20px;transform:translateX(-100%) scaleX(1.045);transform-origin:right;">8</div>
<div class="t" style="left:344.6px;top:197.0px;font-size:28.20px;transform:translateX(-100%) scaleX(1.045);transform-origin:right;">8.2</div>
<div class="t" style="left:344.6px;top:164.4px;font-size:28.20px;transform:translateX(-100%) scaleX(1.045);transform-origin:right;">8.4</div>
<div class="t" style="left:344.6px;top:131.8px;font-size:28.20px;transform:translateX(-100%) scaleX(1.045);transform-origin:right;">8.6</div>
<div class="t" style="left:344.6px;top:99.2px;font-size:28.20px;transform:translateX(-100%) scaleX(1.045);transform-origin:right;">8.8</div>
<div class="t" style="left:788.0px;top:79.5px;font-size:28.20px;transform:scaleX(1.045);transform-origin:left;">MOPFA</div>
<div class="t" style="left:785.2px;top:113.5px;font-size:28.20px;transform:scaleX(1.045);transform-origin:left;">NASGA-II</div>
<div class="t" style="left:785.0px;top:147.0px;font-size:28.20px;transform:scaleX(1.045);transform-origin:left;">MOPSO</div>
<div class="t" style="left:786.5px;top:181.5px;font-size:28.20px;transform:scaleX(1.045);transform-origin:left;">MOMVO</div>
<div class="t" style="left:785.2px;top:214.5px;font-size:28.20px;transform:scaleX(1.045);transform-origin:left;">MOAHA</div>
<div class="t" style="left:785.0px;top:247.5px;font-size:28.20px;transform:scaleX(1.045);transform-origin:left;">MOSSA</div>
<div class="t" style="left:53.0px;top:408.3px;font-size:30.60px;transform:rotate(-90deg) scaleY(1.11) translate(-50%,-27.26px);transform-origin:0 0;white-space:pre">Objective  function value</div>
</body></html>
